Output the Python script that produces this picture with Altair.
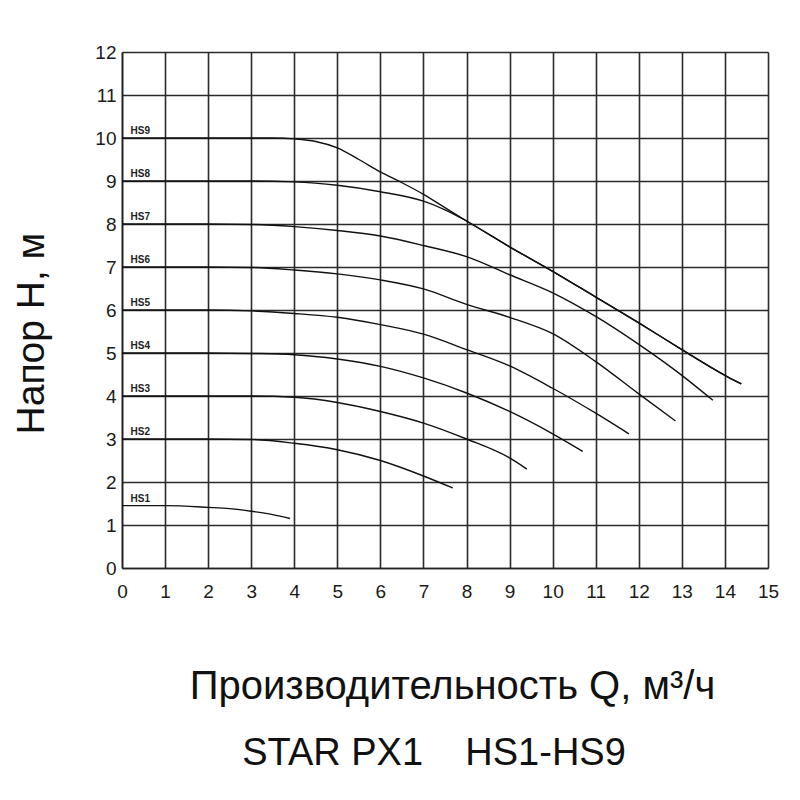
import altair as alt
import pandas as pd

# Series data (Q in m3/h, H in m)
q_hs1 = [0, 1, 2, 2.5, 3, 3.5, 3.9]
h_hs1 = [1.45, 1.45, 1.41, 1.38, 1.32, 1.24, 1.15]

q_hs2 = [0, 1, 2, 3, 4, 5, 6, 7, 7.68]
h_hs2 = [3, 3, 3, 2.99, 2.9, 2.75, 2.5, 2.14, 1.86]

q_hs3 = [0, 1, 2, 3, 4, 5, 6, 7, 8, 9, 9.4]
h_hs3 = [4, 4, 4, 4, 3.97, 3.85, 3.64, 3.37, 3.0, 2.56, 2.3]

q_hs4 = [0, 1, 2, 3, 4, 5, 6, 7, 8, 9, 10, 10.7]
h_hs4 = [5, 5, 5, 4.99, 4.96, 4.86, 4.69, 4.42, 4.07, 3.64, 3.12, 2.71]

q_hs5 = [0, 1, 2, 3, 4, 5, 6, 7, 8, 9, 10, 11, 11.77]
h_hs5 = [6, 6, 6, 5.98, 5.92, 5.83, 5.66, 5.44, 5.08, 4.7, 4.18, 3.6, 3.12]

q_hs6 = [0, 1, 2, 3, 4, 5, 6, 7, 8, 9, 10, 11, 12, 12.85]
h_hs6 = [7, 7, 7, 6.99, 6.93, 6.84, 6.7, 6.49, 6.13, 5.83, 5.45, 4.8, 4.05, 3.42]

q_hs7 = [0, 1, 2, 3, 4, 5, 6, 7, 8, 9, 10, 11, 12, 13, 13.72]
h_hs7 = [8, 8, 8, 7.99, 7.94, 7.85, 7.72, 7.5, 7.24, 6.82, 6.4, 5.85, 5.2, 4.48, 3.9]

q_hs8 = [0, 1, 2, 3, 4, 5, 6, 7, 7.5, 8, 9, 10, 11, 12, 13, 14, 14.38]
h_hs8 = [9, 9, 9, 9, 8.98, 8.9, 8.75, 8.53, 8.33, 8.07, 7.47, 6.9, 6.3, 5.7, 5.08, 4.48, 4.28]

q_hs9 = [0, 1, 2, 3, 3.5, 4, 4.5, 5, 5.5, 6, 6.5, 7, 7.5, 8, 9, 10, 11, 12, 13, 14, 14.38]
h_hs9 = [10, 10, 10, 10, 10, 9.98, 9.92, 9.77, 9.5, 9.21, 8.96, 8.69, 8.38, 8.07, 7.47, 6.9, 6.3, 5.7, 5.08, 4.48, 4.28]

series_names = ["HS1", "HS2", "HS3", "HS4", "HS5", "HS6", "HS7", "HS8", "HS9"]
series_q = [q_hs1, q_hs2, q_hs3, q_hs4, q_hs5, q_hs6, q_hs7, q_hs8, q_hs9]
series_h = [h_hs1, h_hs2, h_hs3, h_hs4, h_hs5, h_hs6, h_hs7, h_hs8, h_hs9]

x_ticks = list(range(0, 16))
y_ticks = list(range(0, 13))

x_title = "Производительность Q, м³/ч"
y_title = "Напор H, м"
sub_title = "STAR PX1\u00a0\u00a0\u00a0 HS1-HS9"

rows = []
for name, qs, hs in zip(series_names, series_q, series_h):
    for q, h in zip(qs, hs):
        rows.append({"series": name, "Q": q, "H": h})
df = pd.DataFrame(rows)

lab = pd.DataFrame({
    "series": series_names,
    "Q": [0.2] * len(series_names),
    "H": [hs[0] for hs in series_h],
})

FONT = "Liberation Sans"

x_enc = alt.X(
    "Q:Q",
    scale=alt.Scale(domain=[0, 15], nice=False, zero=True),
    axis=alt.Axis(
        values=x_ticks, title=x_title, grid=True, ticks=False, labelFlush=False,
        labelPadding=14, labelFontSize=19, labelFont=FONT, labelColor="#1a1a1a",
        titleFont=FONT, titleFontSize=40, titleFontWeight="normal", titleColor="#111",
        titleX=330, titleY=130, titleAlign="center", titleBaseline="alphabetic",
        domainColor="#222", domainWidth=1.6, gridColor="#2a2a2a", gridWidth=1.6,
    ),
)
y_enc = alt.Y(
    "H:Q",
    scale=alt.Scale(domain=[0, 12], nice=False),
    axis=alt.Axis(
        values=y_ticks, title=y_title, grid=True, ticks=False, labelFlush=False,
        labelPadding=6, labelFontSize=19, labelFont=FONT, labelColor="#1a1a1a",
        titleFont=FONT, titleFontSize=39, titleFontWeight="normal", titleColor="#111",
        titleAngle=-90, titleX=-79, titleY=281, titleAlign="center", titleBaseline="alphabetic",
        domainColor="#222", domainWidth=1.6, gridColor="#2a2a2a", gridWidth=1.6,
    ),
)

lines = alt.Chart(df).mark_line(
    color="#111", strokeWidth=1.4, interpolate="monotone"
).encode(x=x_enc, y=y_enc, detail="series:N")

labels = alt.Chart(lab).mark_text(
    align="left", baseline="alphabetic", dy=-4, fontSize=10, font=FONT,
    color="#222", fontWeight="bold"
).encode(x="Q:Q", y="H:Q", text="series:N")

sub = alt.Chart(pd.DataFrame({"t": [sub_title]})).mark_text(
    align="center", baseline="alphabetic", fontSize=38, font=FONT, color="#111"
).encode(x=alt.value(312), y=alt.value(713), text="t:N")

chart = alt.layer(lines, labels, sub).properties(
    width=646,
    height=516,
    padding={"left": 114, "top": 44, "right": 20, "bottom": 220},
    autosize=alt.AutoSizeParams(type="none"),
).configure_view(stroke="#2a2a2a", strokeWidth=1.6).configure(background="white")

chart.save("out.html", embed_options={"renderer": "svg", "actions": False})
